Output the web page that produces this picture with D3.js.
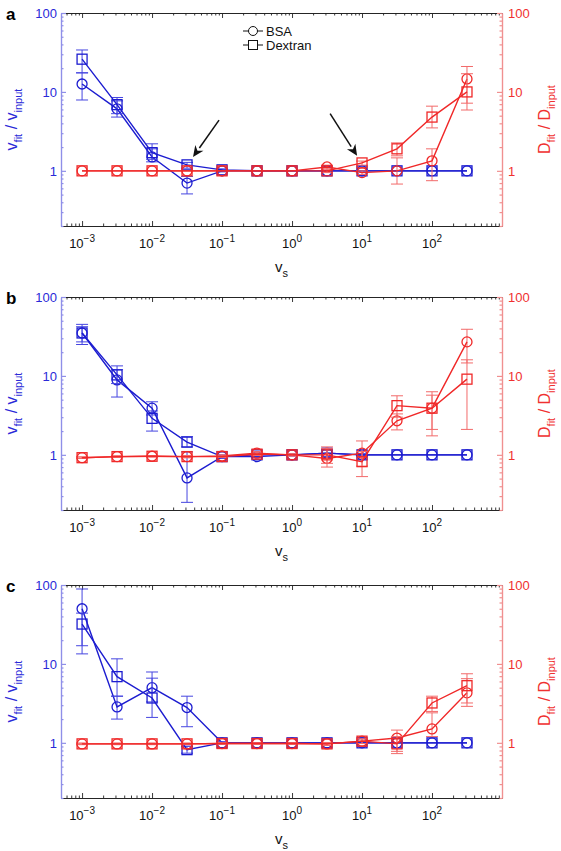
<!DOCTYPE html>
<html><head><meta charset="utf-8">
<script src="https://cdn.jsdelivr.net/npm/d3@7"></script>
<style>body{margin:0;background:#fff;} svg{display:block;font-family:"Liberation Sans",Arial,Helvetica,sans-serif;}</style>
</head><body><svg id="c" width="561" height="851"></svg>
<script>
// ---------------- data ----------------
const xValues = [1e-3, 3.16e-3, 1e-2, 3.16e-2, 0.1, 0.316, 1, 3.16, 10, 31.6, 100, 316];
const xTickValues = [1e-3, 1e-2, 1e-1, 1, 10, 100];
const xTickExponents = ["-3", "-2", "-1", "0", "1", "2"];
const yTickValues = [1, 10, 100];
const yTickLabels = ["1", "10", "100"];
const panelLetters = ["a", "b", "c"];
const legendLabels = ["BSA", "Dextran"];

// panel a
const vBSA_a    = [12.6, 6.1, 1.5, 0.70, 1.0, 1.0, 1.0, 1.0, 1.0, 1.0, 1.0, 1.0];
const vBSA_a_lo = [7.9, 4.8, 1.3, 0.51, 0.97, 1.0, 1.0, 1.0, 1.0, 1.0, 1.0, 1.0];
const vBSA_a_hi = [17.5, 7.7, 1.9, 0.85, 1.03, 1.0, 1.0, 1.0, 1.0, 1.0, 1.0, 1.0];
const vDex_a    = [26, 6.9, 1.7, 1.19, 1.03, 1.0, 1.0, 1.0, 1.0, 1.0, 1.0, 1.0];
const vDex_a_lo = [17.4, 5.3, 1.4, 1.08, 1.0, 1.0, 1.0, 1.0, 1.0, 1.0, 1.0, 1.0];
const vDex_a_hi = [34, 8.5, 2.2, 1.28, 1.06, 1.0, 1.0, 1.0, 1.0, 1.0, 1.0, 1.0];
const DBSA_a    = [1.0, 1.0, 1.0, 1.0, 1.0, 1.0, 1.0, 1.12, 0.95, 1.0, 1.34, 14.6];
const DBSA_a_lo = [1.0, 1.0, 1.0, 1.0, 1.0, 1.0, 1.0, 1.05, 0.90, 0.68, 0.75, 7.2];
const DBSA_a_hi = [1.0, 1.0, 1.0, 1.0, 1.0, 1.0, 1.0, 1.18, 1.0, 1.46, 1.9, 21];
const DDex_a    = [1.0, 1.0, 1.0, 1.0, 1.0, 1.0, 1.0, 1.0, 1.26, 1.9, 4.8, 10];
const DDex_a_lo = [1.0, 1.0, 1.0, 1.0, 1.0, 1.0, 1.0, 0.95, 1.18, 1.55, 3.5, 5.9];
const DDex_a_hi = [1.0, 1.0, 1.0, 1.0, 1.0, 1.0, 1.0, 1.06, 1.33, 2.26, 6.6, 17];

// panel b
const vBSA_b    = [35, 8.9, 3.9, 0.51, 0.95, 0.95, 1.0, 1.05, 1.0, 1.0, 1.0, 1.0];
const vBSA_b_lo = [25, 5.4, 3.2, 0.25, 0.90, 0.92, 0.97, 0.95, 0.97, 1.0, 1.0, 1.0];
const vBSA_b_hi = [45, 12, 4.7, 1.09, 1.0, 0.98, 1.03, 1.15, 1.03, 1.0, 1.0, 1.0];
const vDex_b    = [35, 10.3, 2.9, 1.45, 0.95, 1.0, 1.0, 1.05, 1.0, 1.0, 1.0, 1.0];
const vDex_b_lo = [27, 8.0, 2.0, 1.26, 0.92, 0.97, 0.97, 0.95, 0.97, 1.0, 1.0, 1.0];
const vDex_b_hi = [42, 13.4, 3.6, 1.7, 0.98, 1.03, 1.03, 1.15, 1.03, 1.0, 1.0, 1.0];
const DBSA_b    = [0.92, 0.95, 0.96, 0.95, 0.97, 1.05, 1.0, 0.90, 1.05, 2.7, 3.9, 27];
const DBSA_b_lo = [0.90, 0.93, 0.94, 0.92, 0.94, 1.0, 0.97, 0.70, 0.72, 2.07, 1.74, 14.6];
const DBSA_b_hi = [0.94, 0.97, 0.98, 0.98, 1.0, 1.1, 1.03, 1.26, 1.5, 3.3, 6.3, 39];
const DDex_b    = [0.92, 0.95, 0.96, 0.95, 0.95, 1.02, 1.0, 1.0, 0.82, 4.2, 3.9, 9.1];
const DDex_b_lo = [0.90, 0.93, 0.94, 0.92, 0.93, 0.98, 0.97, 0.78, 0.53, 3.0, 2.1, 2.1];
const DDex_b_hi = [0.94, 0.97, 0.98, 0.98, 0.97, 1.06, 1.03, 1.2, 1.1, 5.6, 5.7, 16];

// panel c
const vBSA_c    = [50, 2.85, 5.0, 2.8, 1.0, 1.0, 1.0, 1.0, 1.0, 1.0, 1.0, 1.0];
const vBSA_c_lo = [17, 2.0, 3.3, 1.6, 0.97, 1.0, 1.0, 1.0, 1.0, 1.0, 1.0, 1.0];
const vBSA_c_hi = [89, 3.9, 7.9, 3.9, 1.03, 1.0, 1.0, 1.0, 1.0, 1.0, 1.0, 1.0];
const vDex_c    = [32, 6.9, 3.7, 0.82, 1.0, 1.0, 1.0, 1.0, 1.0, 1.0, 1.0, 1.0];
const vDex_c_lo = [13.4, 3.9, 2.1, 0.74, 0.97, 1.0, 1.0, 1.0, 1.0, 1.0, 1.0, 1.0];
const vDex_c_hi = [44, 11.6, 6.6, 0.90, 1.03, 1.0, 1.0, 1.0, 1.0, 1.0, 1.0, 1.0];
const DBSA_c    = [0.97, 0.97, 0.97, 0.97, 0.98, 0.98, 0.98, 0.97, 1.05, 1.15, 1.5, 4.3];
const DBSA_c_lo = [0.95, 0.95, 0.95, 0.95, 0.96, 0.96, 0.96, 0.93, 0.98, 0.73, 1.2, 2.9];
const DBSA_c_hi = [0.99, 0.99, 0.99, 0.99, 1.0, 1.0, 1.0, 1.01, 1.12, 1.45, 2.4, 6.5];
const DDex_c    = [0.97, 0.97, 0.97, 0.97, 0.98, 0.98, 0.98, 0.97, 1.05, 0.97, 3.2, 5.3];
const DDex_c_lo = [0.95, 0.95, 0.95, 0.95, 0.96, 0.96, 0.96, 0.93, 0.98, 0.78, 2.5, 3.2];
const DDex_c_hi = [0.99, 0.99, 0.99, 0.99, 1.0, 1.0, 1.0, 1.01, 1.12, 1.2, 3.9, 7.5];

// arrow annotations in panel a (data coords): [xFrom, yFrom, xTo, yTo]
const arrowsA = [[0.0906, 4.4, 0.0385, 1.5], [3.5, 5.3, 8.5, 1.55]];

// ---------------- layout / style ----------------
const panels = [
  {letter: panelLetters[0], top: 13,  vBSA:[vBSA_a,vBSA_a_lo,vBSA_a_hi], vDex:[vDex_a,vDex_a_lo,vDex_a_hi], DBSA:[DBSA_a,DBSA_a_lo,DBSA_a_hi], DDex:[DDex_a,DDex_a_lo,DDex_a_hi], legend:true, arrows: arrowsA},
  {letter: panelLetters[1], top: 297, vBSA:[vBSA_b,vBSA_b_lo,vBSA_b_hi], vDex:[vDex_b,vDex_b_lo,vDex_b_hi], DBSA:[DBSA_b,DBSA_b_lo,DBSA_b_hi], DDex:[DDex_b,DDex_b_lo,DDex_b_hi]},
  {letter: panelLetters[2], top: 585, vBSA:[vBSA_c,vBSA_c_lo,vBSA_c_hi], vDex:[vDex_c,vDex_c_lo,vDex_c_hi], DBSA:[DBSA_c,DBSA_c_lo,DBSA_c_hi], DDex:[DDex_c,DDex_c_lo,DDex_c_hi]}
];
const X0 = 61, X1 = 502, PH = 213;
const blue = "#1c1cd0", red = "#f02828";
const blueErr = "#4646e0", redErr = "#f26a6a";
const blueAxis = "#8f8fe8", redAxis = "#f09090";

const svg = d3.select("#c");
const x = d3.scaleLog().domain([5e-4, 1000]).range([X0, X1]);

function minorTicks(lo, hi) {
  const out = [];
  for (let e = -4; e <= 3; e++) for (let m = 2; m < 10; m++) {
    const v = m * Math.pow(10, e);
    if (v >= lo * 0.9999 && v <= hi * 1.0001) out.push(v);
  }
  return out;
}
const xMinor = minorTicks(5e-4, 1000);
const yMinor = minorTicks(0.2, 100);

panels.forEach(p => {
  const g = svg.append("g");
  const bottom = p.top + PH;
  const y = d3.scaleLog().domain([0.2, 100]).range([bottom, p.top]);

  // bottom & top axes (black, inward ticks)
  const bAxis = d3.axisBottom(x).tickValues(xTickValues).tickSizeInner(-5).tickSizeOuter(0).tickFormat("");
  const bMinor = d3.axisBottom(x).tickValues(xMinor).tickSizeInner(-2.5).tickSizeOuter(0).tickFormat("");
  const tAxis = d3.axisTop(x).tickValues(xTickValues).tickSizeInner(-5).tickSizeOuter(0).tickFormat("");
  const tMinor = d3.axisTop(x).tickValues(xMinor).tickSizeInner(-2.5).tickSizeOuter(0).tickFormat("");
  [[bAxis, bottom], [bMinor, bottom], [tAxis, p.top], [tMinor, p.top]].forEach(([ax, yy]) => {
    const a = g.append("g").attr("transform", `translate(0,${yy})`).call(ax);
    a.selectAll("path,line").attr("stroke", "#222").attr("stroke-width", 0.9);
  });

  // left axis (blue) and right axis (red)
  const lAxis = d3.axisLeft(y).tickValues(yTickValues).tickSizeInner(-5).tickSizeOuter(0).tickFormat("");
  const lMinor = d3.axisLeft(y).tickValues(yMinor).tickSizeInner(-2.5).tickSizeOuter(0).tickFormat("");
  const rAxis = d3.axisRight(y).tickValues(yTickValues).tickSizeInner(-5).tickSizeOuter(0).tickFormat("");
  const rMinor = d3.axisRight(y).tickValues(yMinor).tickSizeInner(-2.5).tickSizeOuter(0).tickFormat("");
  [[lAxis, X0, blueAxis], [lMinor, X0, blueAxis], [rAxis, X1, redAxis], [rMinor, X1, redAxis]].forEach(([ax, xx, col]) => {
    const a = g.append("g").attr("transform", `translate(${xx},0)`).call(ax);
    a.selectAll("path,line").attr("stroke", col).attr("stroke-width", 1.2);
  });

  // x tick labels
  xTickValues.forEach((v, i) => {
    const t = g.append("text").attr("x", x(v)).attr("y", bottom + 22)
      .attr("text-anchor", "middle").attr("font-size", 13).attr("fill", "#111");
    t.append("tspan").text("10");
    t.append("tspan").attr("dy", -6).attr("font-size", 10).text(xTickExponents[i].replace("-", "\u2212"));
  });
  // y tick labels
  yTickValues.forEach((v, i) => {
    g.append("text").attr("x", X0 - 4).attr("y", y(v) + 5).attr("text-anchor", "end")
      .attr("font-size", 13).attr("fill", "#2a2ad8").text(yTickLabels[i]);
    g.append("text").attr("x", X1 + 6).attr("y", y(v) + 5).attr("text-anchor", "start")
      .attr("font-size", 13).attr("fill", "#f03030").text(yTickLabels[i]);
  });

  // x axis label v_s
  const xl = g.append("text").attr("x", 275).attr("y", bottom + 46).attr("font-size", 15).attr("fill", "#111");
  xl.append("tspan").text("v");
  xl.append("tspan").attr("dy", 5).attr("font-size", 11).text("s");

  // y axis labels
  const cy = (p.top + bottom) / 2;
  const yl = g.append("text").attr("transform", `translate(17,${cy}) rotate(-90)`).attr("text-anchor", "middle")
    .attr("font-size", 16).attr("fill", "#2a2ad8");
  yl.append("tspan").text("v");
  yl.append("tspan").attr("dy", 5).attr("font-size", 11).text("fit");
  yl.append("tspan").attr("dy", -5).text(" / v");
  yl.append("tspan").attr("dy", 5).attr("font-size", 11).text("input");
  const yr = g.append("text").attr("transform", `translate(550,${cy}) rotate(-90)`).attr("text-anchor", "middle")
    .attr("font-size", 16).attr("fill", "#f03030");
  yr.append("tspan").text("D");
  yr.append("tspan").attr("dy", 5).attr("font-size", 11).text("fit");
  yr.append("tspan").attr("dy", -5).text(" / D");
  yr.append("tspan").attr("dy", 5).attr("font-size", 11).text("input");

  // panel letter
  g.append("text").attr("x", 6).attr("y", p.top + 7).attr("font-size", 17).attr("font-weight", "bold")
    .attr("fill", "#000").text(p.letter);

  // series
  const line = d3.line().x(d => x(d.x)).y(d => y(d.v));
  function drawSeries(arrs, color, errColor, shape) {
    const [vals, lo, hi] = arrs;
    const data = xValues.map((xv, i) => ({x: xv, v: vals[i], lo: lo[i], hi: hi[i]}));
    const sg = g.append("g");
    // error bars
    data.filter(d => d.hi > d.lo).forEach(d => {
      const cx = x(d.x);
      sg.append("line").attr("x1", cx).attr("x2", cx).attr("y1", y(d.lo)).attr("y2", y(d.hi))
        .attr("stroke", errColor).attr("stroke-width", 1);
      [d.lo, d.hi].forEach(vv => sg.append("line").attr("x1", cx - 6).attr("x2", cx + 6)
        .attr("y1", y(vv)).attr("y2", y(vv)).attr("stroke", errColor).attr("stroke-width", 1));
    });
    sg.append("path").datum(data).attr("d", line).attr("fill", "none").attr("stroke", color).attr("stroke-width", 1.4);
    data.forEach(d => {
      if (shape === "circle") {
        sg.append("circle").attr("cx", x(d.x)).attr("cy", y(d.v)).attr("r", 5)
          .attr("fill", "none").attr("stroke", color).attr("stroke-width", 1.3);
      } else {
        sg.append("rect").attr("x", x(d.x) - 5).attr("y", y(d.v) - 5).attr("width", 10).attr("height", 10)
          .attr("fill", "none").attr("stroke", color).attr("stroke-width", 1.3);
      }
    });
  }
  drawSeries(p.vBSA, blue, blueErr, "circle");
  drawSeries(p.vDex, blue, blueErr, "square");
  drawSeries(p.DBSA, red, redErr, "circle");
  drawSeries(p.DDex, red, redErr, "square");

  // legend
  if (p.legend) {
    legendLabels.forEach((lab, i) => {
      const ly = p.top + 18 + i * 14;
      g.append("line").attr("x1", 243).attr("x2", 263).attr("y1", ly).attr("y2", ly).attr("stroke", "#111").attr("stroke-width", 1);
      if (i === 0) g.append("circle").attr("cx", 253).attr("cy", ly).attr("r", 4.5).attr("fill", "#fff").attr("stroke", "#111");
      else g.append("rect").attr("x", 248.5).attr("y", ly - 4.5).attr("width", 9).attr("height", 9).attr("fill", "#fff").attr("stroke", "#111");
      g.append("text").attr("x", 266).attr("y", ly + 5).attr("font-size", 13).attr("fill", "#111").text(lab);
    });
  }
  // arrows
  if (p.arrows) {
    p.arrows.forEach(([xa, ya, xb, yb]) => {
      const x1 = x(xa), y1 = y(ya), x2 = x(xb), y2 = y(yb);
      const ang = Math.atan2(y2 - y1, x2 - x1);
      const hl = 11, hw = 5;
      const bx = x2 - hl * Math.cos(ang), by = y2 - hl * Math.sin(ang);
      g.append("line").attr("x1", x1).attr("y1", y1).attr("x2", bx).attr("y2", by).attr("stroke", "#111").attr("stroke-width", 1.5);
      const pts = [[x2, y2], [bx + hw * Math.sin(ang), by - hw * Math.cos(ang)], [x2 - 0.7 * hl * Math.cos(ang), y2 - 0.7 * hl * Math.sin(ang)], [bx - hw * Math.sin(ang), by + hw * Math.cos(ang)]];
      g.append("path").attr("d", d3.line()(pts) + "Z").attr("fill", "#111");
    });
  }
});
</script></body></html>
